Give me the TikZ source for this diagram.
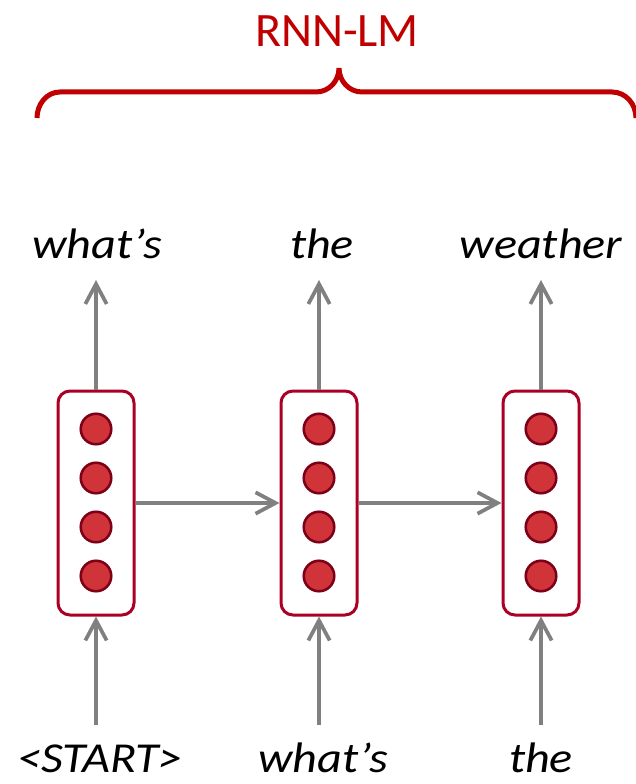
\documentclass[tikz,border=0pt]{standalone}
\usepackage{fontspec}
\setmainfont{Carlito}
\newfontfamily\wordfont{Carlito}[FakeStretch=1.13]
\usepackage{tikz}
\usetikzlibrary{positioning, arrows.meta}
\definecolor{cellred}{RGB}{170,0,36}
\definecolor{dotfill}{RGB}{208,52,56}
\definecolor{dotrim}{RGB}{125,0,25}
\definecolor{bracered}{RGB}{192,0,0}
\definecolor{arrowgray}{RGB}{128,128,128}

\begin{document}
\begin{tikzpicture}[
  x=0.75pt, y=-0.75pt,
  cell/.style={rectangle, rounded corners=9pt, draw=cellred, line width=2.25pt, fill=white, minimum width=57pt, minimum height=168pt, inner sep=0pt},
  dot/.style={circle, draw=dotrim, fill=dotfill, line width=1.9pt, minimum size=22.9pt, inner sep=0pt},
  word/.style={font=\wordfont\fontsize{32}{36}\selectfont\itshape, inner sep=0pt, outer sep=16.5pt, text height=22.5pt, text depth=0pt, anchor=base},
  arrow/.style={-{Straight Barb[length=15pt, width=16pt]}, line width=2.8pt, draw=arrowgray}
]
\useasboundingbox (0,0) rectangle (635,784);

% hidden states
\foreach \b/\xx in {1/96,2/319,3/541} {
  \node[cell] (h\b) at (\xx,503) {};
  \foreach \k/\yy in {1/429,2/478,3/527,4/576}
    \node[dot] (h\b-\k) at (\xx,\yy) {};
}

% words
\node[word] (out1) at (97,258) {what’s};
\node[word] (out2) at (322,258) {the};
\node[word] (out3) at (541,258) {weather};
\node[word, outer sep=13pt] (in1) at (100,772) {<START>};
\node[word, outer sep=13pt] (in2) at (323,772) {what’s};
\node[word, outer sep=13pt] (in3) at (541,772) {the};

\draw[arrow] (h1) -- (h2);
\draw[arrow] (h2) -- (h3);
\draw[arrow] (in1.north -| h1) -- (h1.south);
\draw[arrow] (in2.north -| h2) -- (h2.south);
\draw[arrow] (in3.north -| h3) -- (h3.south);
\draw[arrow] (h1.north) -- (h1.north |- out1.south);
\draw[arrow] (h2.north) -- (h2.north |- out2.south);
\draw[arrow] (h3.north) -- (h3.north |- out3.south);

% brace over the model
\node[font=\fontsize{36}{42}\selectfont, text=bracered] (lm) at (337,31) {RNN-LM};
\coordinate (tip) at (339,68);
\draw[bracered, line width=3.75pt]
  (37,118) to[out=90, in=180] (60,92) -- (316,92) to[out=0, in=-90] (tip)
  to[out=-90, in=180] (362,92) -- (612,92) to[out=0, in=90] (636,118);
\end{tikzpicture}
\end{document}
